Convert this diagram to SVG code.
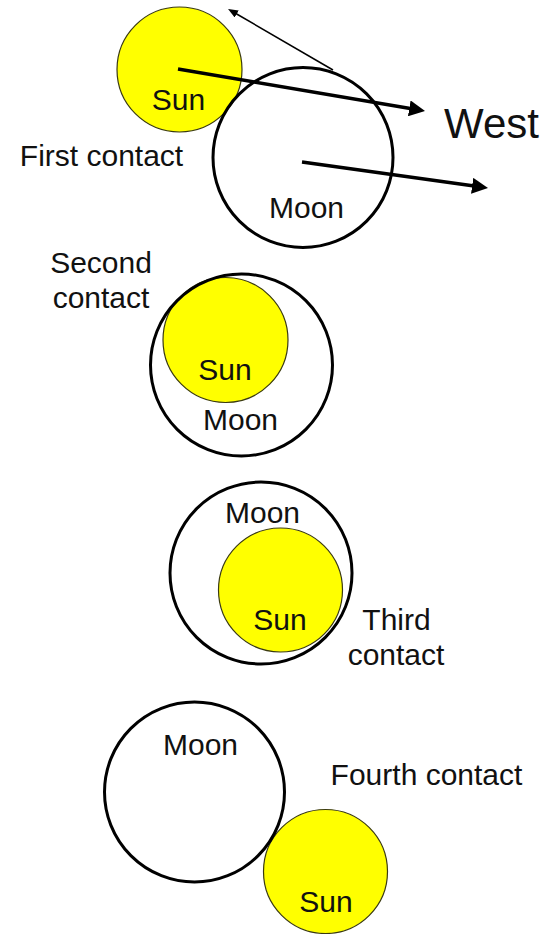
<svg xmlns="http://www.w3.org/2000/svg" width="547" height="934" viewBox="0 0 547 934">
  <style>
    .sun { fill: #ffff00; stroke: #3a3a10; stroke-width: 1.2; }
    .moon { fill: none; stroke: #000; stroke-width: 3; }
    .lbl { font-family: "Liberation Sans", Arial, sans-serif; font-size: 30px; fill: #111; text-anchor: middle; }
    .west { font-size: 42px; }
    .thick { fill: none; stroke: #000; stroke-width: 3.5; }
    .thin { fill: none; stroke: #000; stroke-width: 1.5; }
  </style>
  <defs>
    <marker id="headBig" markerUnits="userSpaceOnUse" markerWidth="16" markerHeight="16" viewBox="0 0 16 16" refX="4" refY="8" orient="auto">
      <path d="M0,0 L16,8 L0,16 z" fill="#000"/>
    </marker>
    <marker id="headSmall" markerUnits="userSpaceOnUse" markerWidth="10" markerHeight="8" viewBox="0 0 10 8" refX="3" refY="4" orient="auto">
      <path d="M0,0 L10,4 L0,8 z" fill="#000"/>
    </marker>
  </defs>
  <rect width="547" height="934" fill="#fff"/>

  <!-- First contact -->
  <g id="sun1">
    <circle class="sun" cx="179.5" cy="69.5" r="62.5"/>
    <text class="lbl" x="178.5" y="110">Sun</text>
  </g>
  <g id="moon1">
    <circle class="moon" cx="303" cy="157.5" r="90"/>
    <text class="lbl" x="306.5" y="218">Moon</text>
  </g>
  <g id="label-first">
    <text class="lbl" x="101.5" y="166">First contact</text>
  </g>
  <g id="label-west">
    <text class="lbl west" x="491.5" y="138">West</text>
  </g>

  <!-- Second contact -->
  <g id="sun2">
    <circle class="sun" cx="225.5" cy="340" r="62.5"/>
    <text class="lbl" x="225" y="380">Sun</text>
  </g>
  <g id="moon2">
    <circle class="moon" cx="241.5" cy="365" r="91"/>
    <text class="lbl" x="240.5" y="430">Moon</text>
  </g>
  <g id="label-second">
    <text class="lbl" x="101" y="273">Second</text>
    <text class="lbl" x="101" y="308">contact</text>
  </g>

  <!-- Third contact -->
  <g id="sun3">
    <circle class="sun" cx="280.5" cy="590" r="62"/>
    <text class="lbl" x="280" y="630">Sun</text>
  </g>
  <g id="moon3">
    <circle class="moon" cx="261" cy="573" r="91"/>
    <text class="lbl" x="262.5" y="523">Moon</text>
  </g>
  <g id="label-third">
    <text class="lbl" x="396.5" y="630">Third</text>
    <text class="lbl" x="396" y="665">contact</text>
  </g>

  <!-- Fourth contact -->
  <g id="sun4">
    <circle class="sun" cx="325.5" cy="871.5" r="62"/>
    <text class="lbl" x="326" y="912">Sun</text>
  </g>
  <g id="moon4">
    <circle class="moon" cx="194.5" cy="792" r="90"/>
    <text class="lbl" x="200.5" y="755">Moon</text>
  </g>
  <g id="label-fourth">
    <text class="lbl" x="426.5" y="785">Fourth contact</text>
  </g>

  <!-- Motion arrows -->
  <g id="connectors">
    <path class="thick" d="M178,69 L413.2,109" marker-end="url(#headBig)"/>
    <path class="thick" d="M302,162 L476.1,186.3" marker-end="url(#headBig)"/>
    <path class="thin" d="M333,70 L234.1,12.5" marker-end="url(#headSmall)"/>
  </g>
</svg>
